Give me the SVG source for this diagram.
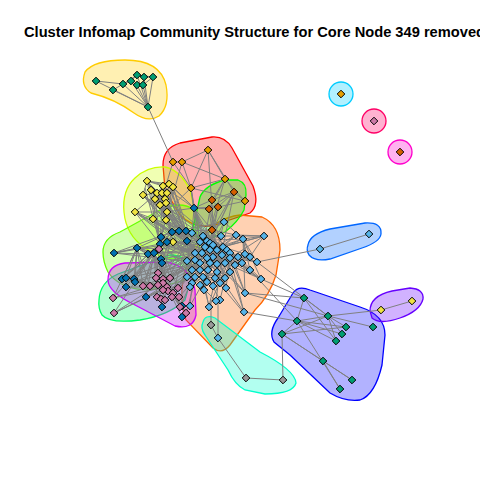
<svg xmlns="http://www.w3.org/2000/svg" xmlns:xlink="http://www.w3.org/1999/xlink" width="480" height="480" viewBox="0 0 480 480">
<style>
.h{fill-opacity:0.3;stroke-width:1.3}
.e{fill:none;stroke:#808080;stroke-width:1}
.n{stroke:#000;stroke-width:1}
.c1{fill:#E69F00}.c2{fill:#56B4E9}.c3{fill:#009E73}.c4{fill:#F0E442}.c5{fill:#0072B2}.c6{fill:#D55E00}.c7{fill:#CC79A7}.c8{fill:#999999}
.t{font-family:"Liberation Sans",Arial,sans-serif;font-weight:bold;font-size:14px;fill:#000}
</style>
<defs><path id="d" d="M0,-3.8L3.8,0L0,3.8L-3.8,0Z"/></defs>
<rect width="480" height="480" fill="#fff"/>
<text class="t" x="24" y="36.5" textLength="461" lengthAdjust="spacingAndGlyphs">Cluster Infomap Community Structure for Core Node 349 removed</text>
<g id="hulls">
<path class="h" fill="#FF0000" stroke="#FF0000" d="M163,165 Q163,148 180,143 L212,137 Q225,136 232,148 L253,186 Q260,205 250,213 L215,225 Q195,230 180,215 L165,190 Z"/>
<path class="h" fill="#FF6600" stroke="#FF6600" d="M186,320 Q178,300 185,270 L200,240 Q215,218 240,215 L262,217 Q280,225 280,250 L276,275 Q270,295 255,310 L230,345 Q222,355 213,348 Z"/>
<path class="h" fill="#FFCC00" stroke="#FFCC00" d="M85,72 Q94,60 125,60 Q160,60 166,85 Q170,106 159,116 Q148,123 134,113 Q115,99 91,93 Q80,86 85,72 Z"/>
<path class="h" fill="#CCFF00" stroke="#CCFF00" d="M124,212 Q122,190 135,178 Q148,166 165,167 Q180,170 190,190 L198,225 Q200,250 185,258 Q165,262 145,248 Q126,235 124,212 Z"/>
<path class="h" fill="#66FF00" stroke="#66FF00" d="M103,252 Q103,238 120,232 L160,210 Q180,200 195,210 L200,240 Q200,265 185,280 L150,290 Q120,290 108,272 Q103,262 103,252 Z"/>
<path class="h" fill="#00FF00" stroke="#00FF00" d="M200,197 Q205,185 225,180 L238,180 Q247,183 246,195 L244,210 Q238,222 225,232 L208,240 Q195,240 193,228 Z"/>
<path class="h" fill="#00FF66" stroke="#00FF66" d="M99,300 Q100,282 118,274 L170,255 Q190,255 192,275 L185,300 Q170,315 140,320 Q110,324 102,315 Q98,308 99,300 Z"/>
<path class="h" fill="#00FFCC" stroke="#00FFCC" d="M203,322 Q205,314 215,318 L260,352 Q295,370 296,383 Q293,394 265,394 L245,390 Q235,385 228,370 L205,335 Q200,328 203,322 Z"/>
<circle class="h" fill="#00CCFF" stroke="#00CCFF" cx="341" cy="94" r="12"/>
<path class="h" fill="#0066FF" stroke="#0066FF" d="M308,245 Q310,234 330,229 L365,223 Q382,222 381,234 Q380,242 362,248 L330,259 Q315,262 309,255 Q306,250 308,245 Z"/>
<path class="h" fill="#0000FF" stroke="#0000FF" d="M278,318 L293,293 Q298,285 310,290 L360,307 Q385,315 385,335 L382,365 Q375,395 360,400 Q345,402 330,393 L290,355 L274,342 Q268,332 278,318 Z"/>
<path class="h" fill="#6600FF" stroke="#6600FF" d="M370,311 Q370,296 392,291 L410,288 Q424,289 423,299 Q420,311 400,318 Q380,325 372,318 Z"/>
<path class="h" fill="#CC00FF" stroke="#CC00FF" d="M108,280 Q108,265 125,263 L165,262 Q190,265 195,290 L196,315 Q193,330 175,326 L135,305 Q108,292 108,280 Z"/>
<circle class="h" fill="#FF00CC" stroke="#FF00CC" cx="400" cy="152" r="12"/>
<circle class="h" fill="#FF0066" stroke="#FF0066" cx="374" cy="121" r="12"/>
</g>
<g id="connectors">
<path class="e" d="M96,81L123,84M96,81L148,107M113,90L123,84M113,90L148,107M123,84L131,81M131,81L137,75M137,75L144,77M144,77L153,77M137,75L153,77M131,81L137,85M137,85L143,85M143,85L153,77M123,84L148,107M131,81L148,107M137,75L148,107M144,77L148,107M153,77L148,107M137,85L148,107M143,85L148,107M123,84L137,75M148,107L173,162"/>
<path class="e" d="M173,162L182,162M182,162L208,150M182,162L225,179M173,162L191,188M182,162L191,188M208,150L191,188M208,150L234,192M208,150L225,179M225,179L245,201M225,179L212,200M225,179L191,188M191,188L245,201M173,162L160,205M182,162L166,220M191,188L200,240M245,201L218,207M225,179L209,209M208,150L215,250"/>
<path class="e" d="M234,192L212,200M234,192L209,209M234,192L245,201M234,192L218,207M212,200L218,207M209,209L218,207M234,192L210,243M234,192L200,263"/>
<path class="e" d="M210,250L192,233M210,250L224,222M210,250L236,235M210,250L264,236M210,250L243,239M210,250L250,257M210,250L257,262M210,250L261,279M210,250L245,293M210,250L226,288M210,250L204,290M210,250L187,277M210,250L187,261M210,250L172,232M210,250L161,237M210,250L148,254M210,250L137,248M210,250L160,205M210,250L166,220M210,250L173,242M210,250L163,279M210,250L170,278M210,250L178,288M210,250L194,208M210,250L212,230M210,250L218,207"/>
<path class="e" d="M223,247L203,236M223,247L186,231M223,247L179,231M223,247L167,242M223,247L154,253M223,247L162,263M223,247L158,273M223,247L163,283M223,247L168,291M223,247L179,297M223,247L190,306M223,247L209,306M223,247L216,301M223,247L244,312M223,247L250,270M223,247L264,236M223,247L236,235M223,247L245,254M223,247L230,272M223,247L215,278M223,247L200,285M223,247L192,270M223,247L155,199M223,247L165,199M223,247L167,212M223,247L234,192M223,247L209,209"/>
<path class="e" d="M200,263L114,253M200,263L137,248M200,263L143,286M200,263L150,286M200,263L157,297M200,263L161,299M200,263L165,300M200,263L172,297M200,263L180,307M200,263L186,313M200,263L146,297M200,263L135,282M200,263L126,278M200,263L160,244M200,263L167,193M200,263L166,203M200,263L153,219M200,263L135,212M200,263L173,187M200,263L225,179M200,263L191,188M200,263L212,200M200,263L238,257M200,263L242,263M200,263L230,258M200,263L225,278M200,263L213,286M200,263L220,300"/>
<path class="e" d="M187,241L147,181M187,241L157,193M187,241L162,193M187,241L169,184M187,241L143,195M187,241L155,199M187,241L160,205M187,241L166,220M187,241L153,219M187,241L135,212M187,241L114,253M187,241L148,254M187,241L161,259M187,241L158,285M187,241L163,290M187,241L173,293M187,241L192,283M187,241L203,277M187,241L217,272M187,241L230,253M187,241L243,239M187,241L221,236M187,241L224,222"/>
<path class="e" d="M160,244L147,181M160,244L163,186M160,244L151,190M160,244L156,206M160,244L166,203M160,244L173,187M160,244L145,188M160,244L135,212M160,244L167,212M160,244L122,279M160,244L134,279M160,244L126,287M160,244L143,286M160,244L156,278M160,244L163,279M160,244L170,278M160,244L167,287M160,244L178,288M160,244L192,270M160,244L195,277M160,244L207,258M160,244L213,257M160,244L222,255"/>
<path class="e" d="M230,258L261,279M230,258L257,262M230,258L264,236M230,258L245,293M230,258L244,312M230,258L226,288M230,258L220,300M230,258L209,307M230,258L213,286M230,258L238,257M230,258L250,270M230,258L230,272M230,258L217,264M230,258L207,241M230,258L213,245M230,258L202,253M230,258L195,253M230,258L200,270M230,258L208,270M243,239L264,236M243,239L257,262M243,239L261,279M243,239L245,293M243,239L250,270M243,239L245,254M243,239L236,235M243,239L224,222"/>
<path class="e" d="M167,287L113,298M167,287L114,313M167,287L122,279M167,287L126,278M167,287L134,279M167,287L126,287M167,287L135,282M167,287L146,297M167,287L143,286M167,287L150,286M167,287L157,297M167,287L161,299M167,287L172,297M167,287L180,307M167,287L162,307M167,287L182,306M167,287L182,317M167,287L186,313"/>
<path class="e" d="M157,193L147,181M157,193L163,186M157,193L169,184M157,193L173,187M157,193L143,195M157,193L162,193M157,193L167,193M157,193L155,199M157,193L165,199M157,193L160,205M157,193L166,203M157,193L135,212M157,193L167,212M157,193L153,219M157,193L166,220M157,193L151,190M157,193L156,206M166,212L147,181M166,212L163,186M166,212L173,187M166,212L143,195M166,212L155,199M166,212L135,212M166,212L153,219M166,212L166,220M166,212L173,242M166,212L151,190M166,212L172,232M166,212L179,231M166,212L186,231M166,212L194,208M166,212L191,188M147,181L163,186M147,181L169,184M147,181L151,190M147,181L143,195M147,181L165,199M147,181L166,203M147,181L173,187"/>
<path class="e" d="M212,230L234,192M212,230L212,200M212,230L209,209M212,230L218,207M212,230L194,208M212,230L224,222M212,230L203,236M212,230L221,236M212,230L236,235M212,230L186,231M212,230L213,245M212,230L217,250M212,230L227,250M194,208L191,188M194,208L173,187M194,208L169,184M194,208L163,186M194,208L209,209M194,208L212,200M194,208L218,207M194,208L203,236M194,208L192,233M194,208L200,242M194,208L210,243M194,208L205,247"/>
<path class="e" d="M213,257L187,261M213,257L195,260M213,257L210,263M213,257L217,264M213,257L225,263M213,257L235,265M213,257L242,263M213,257L250,257M213,257L245,254M213,257L230,253M213,257L222,255M213,257L207,258M213,257L202,253M213,257L195,253M213,257L200,242M213,257L207,241M203,277L187,277M203,277L195,277M203,277L215,278M203,277L225,278M203,277L192,283M203,277L200,285M203,277L207,282M203,277L213,286M203,277L220,283M203,277L190,287M203,277L204,290M203,277L192,270M203,277L200,270M203,277L208,270M203,277L217,272M203,277L230,272"/>
<path class="e" d="M137,248L114,253M137,248L122,279M137,248L126,278M137,248L134,279M137,248L135,282M137,248L148,254M137,248L154,253M137,248L161,259M137,248L162,263M137,248L143,286M137,248L150,286M137,248L113,298M113,298L163,283M114,313L158,285M114,313L163,290M114,253L148,254M114,253L160,244"/>
<path class="e" d="M172,232L147,181M172,232L157,193M172,232L143,195M172,232L135,212M172,232L155,199M172,232L160,205M172,232L153,219M172,232L166,220M172,232L114,253M172,232L137,248M172,232L148,254M172,232L122,279M172,232L134,279M172,232L158,273M172,232L163,279M172,232L187,261M172,232L195,253M172,232L202,253M172,232L210,243M172,232L221,236M172,232L224,222M172,232L213,257M172,232L207,258"/>
<path class="e" d="M195,253L143,195M195,253L151,190M195,253L167,193M195,253L165,199M195,253L135,212M195,253L160,205M195,253L153,219M195,253L161,237M195,253L167,242M195,253L154,253M195,253L161,259M195,253L126,278M195,253L135,282M195,253L156,278M195,253L170,278M195,253L178,288M195,253L187,277M195,253L190,287M195,253L209,306M195,253L190,306"/>
<path class="e" d="M217,250L236,235M217,250L243,239M217,250L257,262M217,250L250,270M217,250L242,263M217,250L235,265M217,250L225,278M217,250L220,283M217,250L213,286M217,250L226,288M217,250L204,290M217,250L192,283M217,250L187,277M217,250L192,270M217,250L200,270M217,250L186,231M217,250L179,231M217,250L172,232M217,250L194,208M217,250L224,222"/>
<path class="e" d="M186,231L147,181M186,231L163,186M186,231L169,184M186,231L173,187M186,231L143,195M186,231L155,199M186,231L165,199M186,231L167,212M186,231L135,212M186,231L153,219M186,231L166,220M154,253L113,298M154,253L114,313M154,253L122,279M154,253L143,286M154,253L157,297M154,253L165,300M154,253L172,297M154,253L180,307M154,253L186,313M154,253L146,297M154,253L162,307"/>
<path class="e" d="M221,236L264,236M236,235L264,236M250,257L264,236M238,257L261,279M225,263L261,279M235,265L245,293M217,264L245,293M210,263L244,312M208,270L244,313M203,277L209,307M200,285L216,301M257,262L320,249M320,249L369,234"/>
<path class="e" d="M261,279L304,298M250,270L297,321M244,312L297,321M245,293L328,316M257,262L328,316M245,293L304,298M304,298L297,321M304,298L328,316M297,321L328,316M297,321L346,327M297,321L342,334M297,321L336,341M328,316L346,327M328,316L342,334M328,316L336,341M328,316L373,327M282,334L297,321M282,334L328,316M282,334L346,327M282,334L323,361M323,361L352,380M323,361L340,389M297,321L340,389M282,334L352,380M304,298L336,341M328,316L381,310M381,310L412,301"/>
<path class="e" d="M211,300L211,325M211,325L218,338M218,300L218,338M218,338L246,378M246,378L283,380M283,380L282,334"/>
</g>
<g id="nodes">
<g id="cluster1"><use xlink:href="#d" class="n c1" x="208" y="150"/><use xlink:href="#d" class="n c1" x="173" y="162"/><use xlink:href="#d" class="n c1" x="182" y="162"/><use xlink:href="#d" class="n c1" x="225" y="179"/><use xlink:href="#d" class="n c1" x="191" y="188"/><use xlink:href="#d" class="n c1" x="245" y="201"/></g>
<g id="cluster3"><use xlink:href="#d" class="n c3" x="96" y="81"/><use xlink:href="#d" class="n c3" x="113" y="90"/><use xlink:href="#d" class="n c3" x="123" y="84"/><use xlink:href="#d" class="n c3" x="131" y="81"/><use xlink:href="#d" class="n c3" x="137" y="75"/><use xlink:href="#d" class="n c3" x="144" y="77"/><use xlink:href="#d" class="n c3" x="153" y="77"/><use xlink:href="#d" class="n c3" x="137" y="85"/><use xlink:href="#d" class="n c3" x="143" y="85"/><use xlink:href="#d" class="n c3" x="148" y="107"/></g>
<g id="cluster4"><use xlink:href="#d" class="n c4" x="147" y="181"/><use xlink:href="#d" class="n c4" x="163" y="186"/><use xlink:href="#d" class="n c4" x="169" y="184"/><use xlink:href="#d" class="n c4" x="173" y="187"/><use xlink:href="#d" class="n c4" x="143" y="195"/><use xlink:href="#d" class="n c4" x="151" y="190"/><use xlink:href="#d" class="n c4" x="157" y="193"/><use xlink:href="#d" class="n c4" x="162" y="193"/><use xlink:href="#d" class="n c4" x="167" y="193"/><use xlink:href="#d" class="n c4" x="155" y="199"/><use xlink:href="#d" class="n c4" x="165" y="199"/><use xlink:href="#d" class="n c4" x="160" y="205"/><use xlink:href="#d" class="n c4" x="166" y="203"/><use xlink:href="#d" class="n c4" x="135" y="212"/><use xlink:href="#d" class="n c4" x="167" y="212"/><use xlink:href="#d" class="n c4" x="153" y="219"/><use xlink:href="#d" class="n c4" x="166" y="220"/><use xlink:href="#d" class="n c4" x="173" y="242"/></g>
<g id="cluster6"><use xlink:href="#d" class="n c6" x="234" y="192"/><use xlink:href="#d" class="n c6" x="212" y="200"/><use xlink:href="#d" class="n c6" x="209" y="209"/><use xlink:href="#d" class="n c6" x="218" y="207"/><use xlink:href="#d" class="n c6" x="212" y="230"/></g>
<g id="cluster5"><use xlink:href="#d" class="n c5" x="194" y="208"/><use xlink:href="#d" class="n c5" x="172" y="232"/><use xlink:href="#d" class="n c5" x="161" y="237"/><use xlink:href="#d" class="n c5" x="186" y="231"/><use xlink:href="#d" class="n c5" x="179" y="231"/><use xlink:href="#d" class="n c5" x="187" y="241"/><use xlink:href="#d" class="n c5" x="160" y="244"/><use xlink:href="#d" class="n c5" x="167" y="242"/><use xlink:href="#d" class="n c5" x="137" y="248"/><use xlink:href="#d" class="n c5" x="114" y="253"/><use xlink:href="#d" class="n c5" x="148" y="254"/><use xlink:href="#d" class="n c5" x="154" y="253"/><use xlink:href="#d" class="n c5" x="161" y="259"/><use xlink:href="#d" class="n c5" x="162" y="263"/></g>
<g id="cluster13"><use xlink:href="#d" class="n c5" x="122" y="279"/><use xlink:href="#d" class="n c5" x="126" y="278"/><use xlink:href="#d" class="n c5" x="134" y="279"/><use xlink:href="#d" class="n c5" x="126" y="287"/><use xlink:href="#d" class="n c5" x="135" y="282"/><use xlink:href="#d" class="n c5" x="146" y="297"/><use xlink:href="#d" class="n c5" x="162" y="307"/><use xlink:href="#d" class="n c5" x="182" y="306"/><use xlink:href="#d" class="n c5" x="182" y="317"/></g>
<g id="cluster7"><use xlink:href="#d" class="n c7" x="159" y="249"/><use xlink:href="#d" class="n c7" x="158" y="273"/><use xlink:href="#d" class="n c7" x="156" y="278"/><use xlink:href="#d" class="n c7" x="163" y="279"/><use xlink:href="#d" class="n c7" x="170" y="278"/><use xlink:href="#d" class="n c7" x="163" y="283"/><use xlink:href="#d" class="n c7" x="167" y="287"/><use xlink:href="#d" class="n c7" x="158" y="285"/><use xlink:href="#d" class="n c7" x="168" y="291"/><use xlink:href="#d" class="n c7" x="173" y="293"/><use xlink:href="#d" class="n c7" x="163" y="290"/><use xlink:href="#d" class="n c7" x="143" y="286"/><use xlink:href="#d" class="n c7" x="150" y="286"/><use xlink:href="#d" class="n c7" x="157" y="297"/><use xlink:href="#d" class="n c7" x="161" y="299"/><use xlink:href="#d" class="n c7" x="165" y="300"/><use xlink:href="#d" class="n c7" x="172" y="297"/><use xlink:href="#d" class="n c7" x="178" y="288"/><use xlink:href="#d" class="n c7" x="179" y="297"/><use xlink:href="#d" class="n c7" x="113" y="298"/><use xlink:href="#d" class="n c7" x="114" y="313"/><use xlink:href="#d" class="n c7" x="180" y="307"/><use xlink:href="#d" class="n c7" x="186" y="313"/></g>
<g id="cluster2"><use xlink:href="#d" class="n c2" x="224" y="222"/><use xlink:href="#d" class="n c2" x="192" y="233"/><use xlink:href="#d" class="n c2" x="203" y="236"/><use xlink:href="#d" class="n c2" x="221" y="236"/><use xlink:href="#d" class="n c2" x="236" y="235"/><use xlink:href="#d" class="n c2" x="264" y="236"/><use xlink:href="#d" class="n c2" x="243" y="239"/><use xlink:href="#d" class="n c2" x="200" y="242"/><use xlink:href="#d" class="n c2" x="207" y="241"/><use xlink:href="#d" class="n c2" x="210" y="243"/><use xlink:href="#d" class="n c2" x="213" y="245"/><use xlink:href="#d" class="n c2" x="205" y="247"/><use xlink:href="#d" class="n c2" x="223" y="247"/><use xlink:href="#d" class="n c2" x="227" y="250"/><use xlink:href="#d" class="n c2" x="230" y="253"/><use xlink:href="#d" class="n c2" x="217" y="250"/><use xlink:href="#d" class="n c2" x="210" y="250"/><use xlink:href="#d" class="n c2" x="202" y="253"/><use xlink:href="#d" class="n c2" x="195" y="253"/><use xlink:href="#d" class="n c2" x="222" y="255"/><use xlink:href="#d" class="n c2" x="213" y="257"/><use xlink:href="#d" class="n c2" x="207" y="258"/><use xlink:href="#d" class="n c2" x="230" y="258"/><use xlink:href="#d" class="n c2" x="238" y="257"/><use xlink:href="#d" class="n c2" x="245" y="254"/><use xlink:href="#d" class="n c2" x="250" y="257"/><use xlink:href="#d" class="n c2" x="257" y="262"/><use xlink:href="#d" class="n c2" x="187" y="261"/><use xlink:href="#d" class="n c2" x="195" y="260"/><use xlink:href="#d" class="n c2" x="200" y="263"/><use xlink:href="#d" class="n c2" x="210" y="263"/><use xlink:href="#d" class="n c2" x="217" y="264"/><use xlink:href="#d" class="n c2" x="225" y="263"/><use xlink:href="#d" class="n c2" x="235" y="265"/><use xlink:href="#d" class="n c2" x="242" y="263"/><use xlink:href="#d" class="n c2" x="250" y="270"/><use xlink:href="#d" class="n c2" x="192" y="270"/><use xlink:href="#d" class="n c2" x="200" y="270"/><use xlink:href="#d" class="n c2" x="208" y="270"/><use xlink:href="#d" class="n c2" x="217" y="272"/><use xlink:href="#d" class="n c2" x="230" y="272"/><use xlink:href="#d" class="n c2" x="187" y="277"/><use xlink:href="#d" class="n c2" x="195" y="277"/><use xlink:href="#d" class="n c2" x="203" y="277"/><use xlink:href="#d" class="n c2" x="215" y="278"/><use xlink:href="#d" class="n c2" x="225" y="278"/><use xlink:href="#d" class="n c2" x="192" y="283"/><use xlink:href="#d" class="n c2" x="200" y="285"/><use xlink:href="#d" class="n c2" x="207" y="282"/><use xlink:href="#d" class="n c2" x="261" y="279"/><use xlink:href="#d" class="n c2" x="213" y="286"/><use xlink:href="#d" class="n c2" x="220" y="283"/><use xlink:href="#d" class="n c2" x="190" y="287"/><use xlink:href="#d" class="n c2" x="204" y="290"/><use xlink:href="#d" class="n c2" x="220" y="300"/><use xlink:href="#d" class="n c2" x="226" y="288"/><use xlink:href="#d" class="n c2" x="245" y="293"/><use xlink:href="#d" class="n c2" x="244" y="312"/><use xlink:href="#d" class="n c2" x="209" y="307"/><use xlink:href="#d" class="n c2" x="190" y="306"/><use xlink:href="#d" class="n c2" x="216" y="301"/><use xlink:href="#d" class="n c2" x="218" y="338"/></g>
<g id="cluster8"><use xlink:href="#d" class="n c8" x="211" y="325"/><use xlink:href="#d" class="n c8" x="246" y="378"/><use xlink:href="#d" class="n c8" x="283" y="380"/></g>
<g id="cluster9"><use xlink:href="#d" class="n c1" x="341" y="94"/></g>
<g id="cluster10"><use xlink:href="#d" class="n c2" x="320" y="249"/><use xlink:href="#d" class="n c2" x="369" y="234"/></g>
<g id="cluster11"><use xlink:href="#d" class="n c3" x="304" y="298"/><use xlink:href="#d" class="n c3" x="328" y="316"/><use xlink:href="#d" class="n c3" x="297" y="321"/><use xlink:href="#d" class="n c3" x="346" y="327"/><use xlink:href="#d" class="n c3" x="373" y="327"/><use xlink:href="#d" class="n c3" x="282" y="334"/><use xlink:href="#d" class="n c3" x="342" y="334"/><use xlink:href="#d" class="n c3" x="336" y="341"/><use xlink:href="#d" class="n c3" x="323" y="361"/><use xlink:href="#d" class="n c3" x="352" y="380"/><use xlink:href="#d" class="n c3" x="340" y="389"/></g>
<g id="cluster12"><use xlink:href="#d" class="n c4" x="381" y="310"/><use xlink:href="#d" class="n c4" x="412" y="301"/></g>
<g id="cluster14"><use xlink:href="#d" class="n c6" x="400" y="152"/></g>
<g id="cluster15"><use xlink:href="#d" class="n c7" x="374" y="121"/></g>
</g>
</svg>
